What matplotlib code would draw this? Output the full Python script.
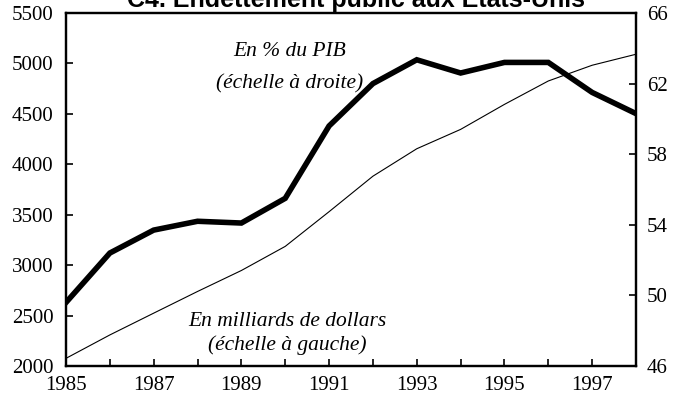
import matplotlib
matplotlib.use('Agg')
import matplotlib.pyplot as plt

# Dette publique des Etats-Unis, 1985-1998
annees = list(range(1985, 1999))
milliards = [2076, 2308, 2524, 2739, 2947, 3186, 3530, 3882, 4154, 4346, 4594, 4826, 4982, 5091]
pct_pib = [49.6, 52.4, 53.7, 54.2, 54.1, 55.5, 59.6, 62.0, 63.35, 62.6, 63.2, 63.2, 61.5, 60.3]

gauche_ticks = [2000, 2500, 3000, 3500, 4000, 4500, 5000, 5500]
droite_ticks = [46, 50, 54, 58, 62, 66]
labels_annees = [str(a) if a % 2 == 1 else '' for a in annees]

serif = ['Liberation Serif', 'DejaVu Serif']

fig = plt.figure(figsize=(6.74, 4.03), dpi=100)
ax = fig.add_axes([66 / 674, 37 / 403, 570 / 674, 353 / 403])
ax2 = ax.twinx()

ax.plot(annees, milliards, color='black', linewidth=0.8)
ax2.plot(annees, pct_pib, color='black', linewidth=4, solid_joinstyle='miter')

ax.set_xlim(1985, 1998)
ax.set_ylim(2000, 5500)
ax2.set_ylim(46, 66)
ax.set_yticks(gauche_ticks)
ax2.set_yticks(droite_ticks)
ax.set_xticks(annees)
ax.set_xticklabels(labels_annees)

for a in (ax, ax2):
    for s in a.spines.values():
        s.set_linewidth(1.6)
    a.tick_params(direction='in', length=5, width=1.2, labelsize=15, pad=7)
    for lab in a.get_xticklabels() + a.get_yticklabels():
        lab.set_family(serif)
ax.tick_params(axis='y', pad=9)
ax2.tick_params(axis='y', pad=8)

# libellés des deux courbes
ax.text(1990.1, 5115, 'En % du PIB', ha='center', va='center',
        fontsize=15.5, style='italic', family=serif)
ax.text(1990.1, 4800, '(échelle à droite)', ha='center', va='center',
        fontsize=15.5, style='italic', family=serif)
ax.text(1990.05, 2440, 'En milliards de dollars', ha='center', va='center',
        fontsize=15.5, style='italic', family=serif)
ax.text(1990.05, 2205, '(échelle à gauche)', ha='center', va='center',
        fontsize=15.5, style='italic', family=serif)

fig.text(0.528, 1 - 7 / 403, 'C4. Endettement public aux Etats-Unis', ha='center',
         va='baseline', fontsize=18, fontweight='bold', family=['Liberation Sans', 'DejaVu Sans'])

fig.savefig('out.png', dpi=100)
